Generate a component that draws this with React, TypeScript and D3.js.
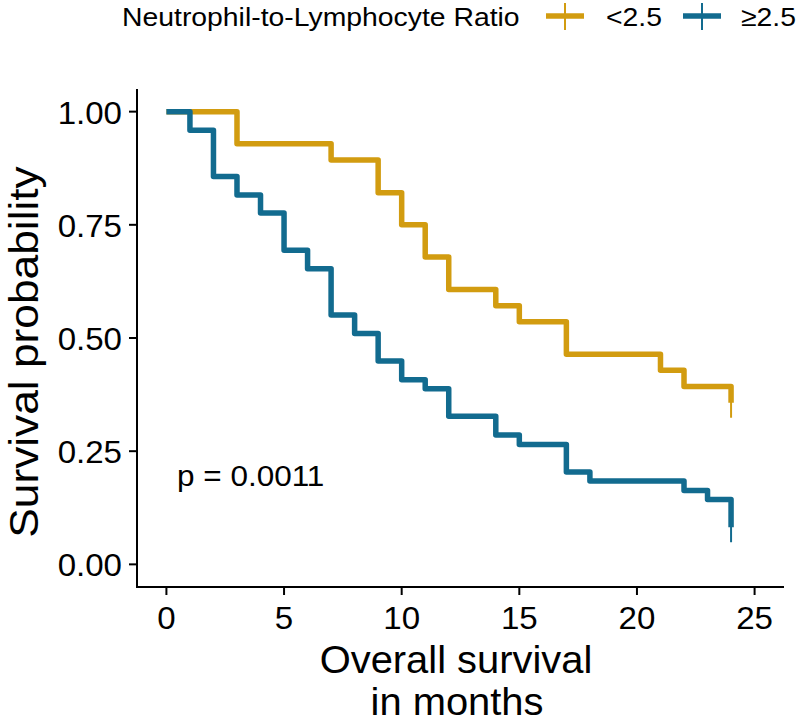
import React from "react";
import * as d3 from "d3";

const groupNames = ["<2.5", "≥2.5"];
const groupColors = ["#D29C10", "#126B8F"];

const lowTimes = [0, 3, 7, 9, 10, 11, 12, 14, 15, 17, 21, 22, 24];
const lowSurv = [1, 0.929, 0.893, 0.821, 0.75, 0.679, 0.607, 0.571, 0.536, 0.464, 0.429, 0.393, 0.357];

const highTimes = [0, 1, 2, 3, 4, 5, 6, 7, 8, 9, 10, 11, 12, 14, 15, 17, 18, 22, 23, 24];
const highSurv = [1, 0.959, 0.857, 0.816, 0.776, 0.694, 0.653, 0.551, 0.51, 0.449, 0.408, 0.388, 0.327, 0.286, 0.265, 0.204, 0.184, 0.163, 0.143, 0.082];

const censorTimes = [24, 24];
const censorSurv = [0.357, 0.082];

const xTicks = [0, 5, 10, 15, 20, 25];
const yTicks = [0, 0.25, 0.5, 0.75, 1];
const yTickLabels = ["0.00", "0.25", "0.50", "0.75", "1.00"];

const legendTitle = "Neutrophil-to-Lymphocyte Ratio";
const xTitle1 = "Overall survival";
const xTitle2 = "in months";
const yTitle = "Survival probability";
const pText = "p = 0.0011";

export default function App() {
  const W = 800, H = 724;
  const x = d3.scaleLinear().domain([-1.25, 26.25]).range([137, 784]);
  const y = d3.scaleLinear().domain([-0.05, 1.05]).range([587, 89]);
  const font = "'Liberation Sans', Arial, sans-serif";
  const sx = 1.05;
  const lsx = 1.07;

  const line = d3
    .line<[number, number]>()
    .x((d) => x(d[0]))
    .y((d) => y(d[1]))
    .curve(d3.curveStepAfter);

  const series = [
    { t: lowTimes, s: lowSurv },
    { t: highTimes, s: highSurv },
  ];

  return (
    <svg width={W} height={H} style={{ position: "absolute", left: 0, top: 0, background: "#fff" }} fontFamily={font}>
      {/* legend */}
      <text transform={`translate(122,26) scale(${lsx},1)`} fontSize={26.5} fill="#000">{legendTitle}</text>
      {[0, 1].map((i) => {
        const cx = i === 0 ? 565 : 702;
        const tx = i === 0 ? 606 : 741;
        return (
          <g key={"lg" + i}>
            <line x1={cx - 19} x2={cx + 19} y1={16} y2={16} stroke={groupColors[i]} strokeWidth={5.5} />
            <line x1={cx} x2={cx} y1={3} y2={30} stroke={groupColors[i]} strokeWidth={2} />
            <text transform={`translate(${tx},26) scale(${lsx},1)`} fontSize={26.5} fill="#000">{groupNames[i]}</text>
          </g>
        );
      })}

      {/* curves */}
      {series.map((g, i) => {
        const pts: [number, number][] = g.t.map((t, j) => [t, g.s[j]]);
        return (
          <path key={"c" + i} d={line(pts) || ""} fill="none" stroke={groupColors[i]} strokeWidth={5.5} strokeLinejoin="round" strokeLinecap="butt" />
        );
      })}
      {censorTimes.map((t, i) => (
        <g key={"cs" + i}>
          <line x1={x(t)} x2={x(t)} y1={y(censorSurv[i]) - 15} y2={y(censorSurv[i]) + 15} stroke={groupColors[i]} strokeWidth={2} />
        </g>
      ))}

      {/* p value */}
      <text transform={`translate(${x(0.45)},${y(0.2) + 12}) scale(${sx},1)`} fontSize={30} fill="#000">{pText}</text>

      {/* axes */}
      <line x1={x.range()[0]} x2={x.range()[1]} y1={587} y2={587} stroke="#000" strokeWidth={2} />
      <line x1={137} x2={137} y1={y.range()[1]} y2={y.range()[0] + 1} stroke="#000" strokeWidth={2} />
      {xTicks.map((t) => (
        <g key={"xt" + t}>
          <line x1={x(t)} x2={x(t)} y1={587} y2={595} stroke="#000" strokeWidth={2} />
          <text transform={`translate(${x(t)},629) scale(${sx},1)`} textAnchor="middle" fontSize={31.5} fill="#000">{t}</text>
        </g>
      ))}
      {yTicks.map((t, i) => (
        <g key={"yt" + t}>
          <line x1={129} x2={137} y1={y(t)} y2={y(t)} stroke="#000" strokeWidth={2} />
          <text transform={`translate(122,${y(t) + 12}) scale(${sx},1)`} textAnchor="end" fontSize={31.5} fill="#000">{yTickLabels[i]}</text>
        </g>
      ))}

      {/* titles */}
      <text transform={`translate(456,673) scale(${sx},1)`} textAnchor="middle" fontSize={38} fill="#000">{xTitle1}</text>
      <text transform={`translate(457,715) scale(${sx},1)`} textAnchor="middle" fontSize={38} fill="#000">{xTitle2}</text>
      <text transform={`translate(38,352) rotate(-90) scale(1.08,1)`} textAnchor="middle" fontSize={41} fill="#000">{yTitle}</text>
    </svg>
  );
}
